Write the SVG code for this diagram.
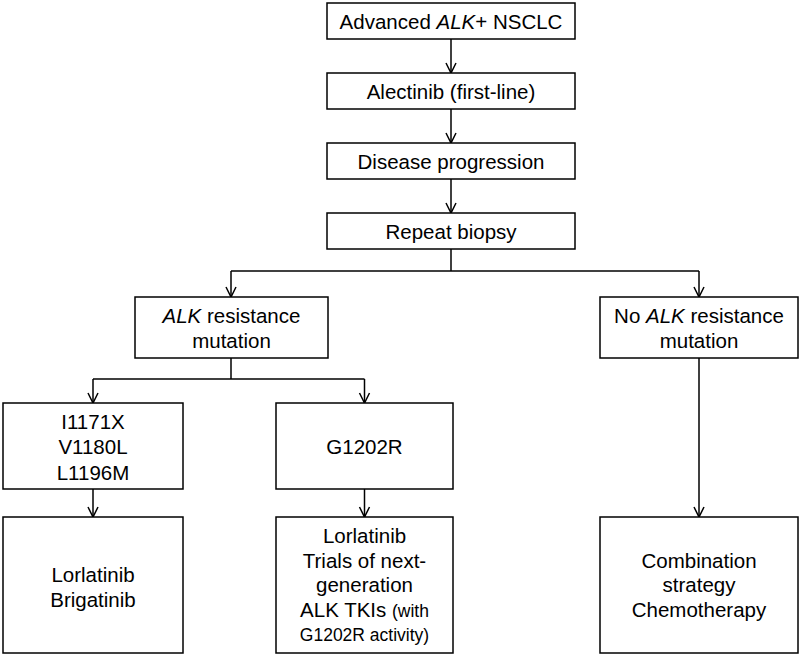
<svg xmlns="http://www.w3.org/2000/svg" width="800" height="658" viewBox="0 0 800 658">
<defs>
<style>
.box{fill:#fff;stroke:#000;stroke-width:1.5}
.t{font-family:"Liberation Sans",Arial,Helvetica,sans-serif;font-size:20.5px;fill:#000;text-anchor:middle}
.s{font-size:17.5px}
.i{font-style:italic}
.c{fill:none;stroke:#000;stroke-width:1.5}
</style>
<marker id="arr" markerUnits="userSpaceOnUse" markerWidth="12" markerHeight="12" refX="0" refY="0" orient="auto" overflow="visible">
<path d="M-10,-5 L0,0 L-10,5" fill="none" stroke="#000" stroke-width="1.5"/>
</marker>
</defs>
<rect width="800" height="658" fill="#fff"/>
<g id="connectors">
<line class="c" x1="451" y1="39" x2="451" y2="73" marker-end="url(#arr)"/>
<line class="c" x1="451" y1="109" x2="451" y2="143" marker-end="url(#arr)"/>
<line class="c" x1="451" y1="179" x2="451" y2="213" marker-end="url(#arr)"/>
<polyline class="c" points="451,249 451,271"/>
<polyline class="c" points="231,271 699,271"/>
<line class="c" x1="231" y1="271" x2="231" y2="297" marker-end="url(#arr)"/>
<line class="c" x1="699" y1="271" x2="699" y2="297" marker-end="url(#arr)"/>
<polyline class="c" points="231,358 231,379"/>
<polyline class="c" points="93,379 364.5,379"/>
<line class="c" x1="93" y1="379" x2="93" y2="403" marker-end="url(#arr)"/>
<line class="c" x1="364.5" y1="379" x2="364.5" y2="403" marker-end="url(#arr)"/>
<line class="c" x1="93" y1="489" x2="93" y2="517" marker-end="url(#arr)"/>
<line class="c" x1="364.5" y1="489" x2="364.5" y2="517" marker-end="url(#arr)"/>
<line class="c" x1="699" y1="358" x2="699" y2="517" marker-end="url(#arr)"/>
</g>
<g id="advanced">
<rect class="box" x="327" y="3" width="248" height="36"/>
<text class="t" x="451" y="28.5">Advanced <tspan class="i">ALK</tspan>+ NSCLC</text>
</g>
<g id="alectinib">
<rect class="box" x="327" y="73" width="248" height="36"/>
<text class="t" x="451" y="98.5">Alectinib (first-line)</text>
</g>
<g id="progression">
<rect class="box" x="327" y="143" width="248" height="36"/>
<text class="t" x="451" y="168.5">Disease progression</text>
</g>
<g id="biopsy">
<rect class="box" x="327" y="213" width="248" height="36"/>
<text class="t" x="451" y="238.5">Repeat biopsy</text>
</g>
<g id="alk-mutation">
<rect class="box" x="135" y="297" width="193" height="61"/>
<text class="t" x="231.5" y="322.5"><tspan class="i">ALK</tspan> resistance</text>
<text class="t" x="231.5" y="347.5">mutation</text>
</g>
<g id="no-alk-mutation">
<rect class="box" x="600" y="297" width="198" height="61"/>
<text class="t" x="699" y="322.5">No <tspan class="i">ALK</tspan> resistance</text>
<text class="t" x="699" y="347.5">mutation</text>
</g>
<g id="mutations">
<rect class="box" x="3" y="403" width="180" height="86"/>
<text class="t" x="93" y="428.5">I1171X</text>
<text class="t" x="93" y="454">V1180L</text>
<text class="t" x="93" y="479.5">L1196M</text>
</g>
<g id="g1202r">
<rect class="box" x="276" y="403" width="177" height="86"/>
<text class="t" x="364.5" y="454">G1202R</text>
</g>
<g id="lorla-briga">
<rect class="box" x="3" y="517" width="180" height="136"/>
<text class="t" x="93" y="582">Lorlatinib</text>
<text class="t" x="93" y="607">Brigatinib</text>
</g>
<g id="lorla-trials">
<rect class="box" x="276" y="517" width="177" height="136"/>
<text class="t" x="364.5" y="543">Lorlatinib</text>
<text class="t" x="364.5" y="567.5">Trials of next-</text>
<text class="t" x="364.5" y="592">generation</text>
<text class="t" x="364.5" y="616.5">ALK TKIs <tspan class="s">(with</tspan></text>
<text class="t s" x="364.5" y="641">G1202R activity)</text>
</g>
<g id="combination">
<rect class="box" x="600" y="517" width="198" height="136"/>
<text class="t" x="699" y="567.5">Combination</text>
<text class="t" x="699" y="592">strategy</text>
<text class="t" x="699" y="617">Chemotherapy</text>
</g>
</svg>
